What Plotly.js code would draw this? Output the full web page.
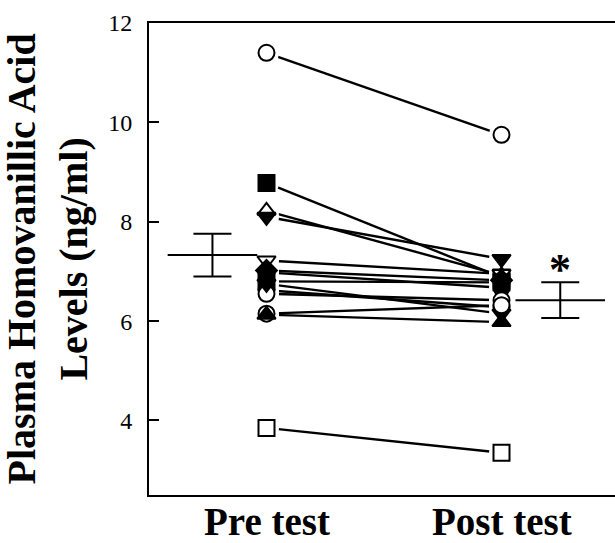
<!DOCTYPE html>
<html>
<head>
<meta charset="utf-8">
<script src="https://cdn.plot.ly/plotly-3.0.1.min.js"></script>
<style>
html, body { margin: 0; padding: 0; overflow: hidden; background: #fff; }
#chart { width: 620px; height: 543px; }
</style>
</head>
<body>
<div id="chart"></div>
<script>
// ---- data ----
const categories = ['Pre test', 'Post test'];
const categoryX = [1, 2];
const subjectSymbols = [
  'circle-open', 'square', 'triangle-up-open', 'triangle-down', 'triangle-down-open',
  'diamond', 'circle', 'square', 'circle', 'circle-open',
  'triangle-down', 'circle-open', 'triangle-up', 'square-open'
];
const preValues  = [11.40, 8.78, 8.22, 8.10, 7.22, 7.02, 6.98, 6.80, 6.62, 6.55, 6.75, 6.15, 6.13, 3.85];
const postValues = [ 9.75, 6.88, 6.92, 7.25, 6.95, 6.82, 6.67, 6.78, 6.28, 6.42, 6.15, 6.32, 5.98, 3.35];
const meanX = [0.77, 2.25];
const meanValues = [7.33, 6.42];
const meanSE = [0.43, 0.36];
const significanceMark = '*';
const yTickValues = [4, 6, 8, 10, 12];
const yTitleLines = ['Plasma Homovanillic Acid', 'Levels (ng/ml)'];

// ---- build traces ----
const serif = 'Liberation Serif, Times New Roman, serif';
const traces = [];
for (let i = 0; i < preValues.length; i++) {
  traces.push({
    type: 'scatter', mode: 'lines',
    x: categoryX, y: [preValues[i], postValues[i]],
    line: { color: '#000', width: 2.4 },
    hoverinfo: 'skip', showlegend: false
  });
}
// white halos so the connecting lines stop short of the symbols
[preValues, postValues].forEach((vals, k) => {
  traces.push({
    type: 'scatter', mode: 'markers',
    x: vals.map(() => categoryX[k]), y: vals,
    marker: { symbol: 'circle', color: '#fff', size: 25, line: { width: 0 } },
    hoverinfo: 'skip', showlegend: false
  });
});
const baseSymbol = s => s.replace('-open', '');
const fillOf = s => s.endsWith('-open') ? '#fff' : '#000';
[preValues, postValues].forEach((vals, k) => {
  traces.push({
    type: 'scatter', mode: 'markers',
    x: vals.map(() => categoryX[k]), y: vals,
    marker: {
      symbol: subjectSymbols.map(baseSymbol),
      color: subjectSymbols.map(fillOf),
      size: 16,
      line: { color: '#000', width: 2 }
    },
    showlegend: false
  });
});
traces.push({
  type: 'scatter', mode: 'markers',
  x: meanX, y: meanValues,
  marker: { symbol: 'line-ew', size: 64, color: '#000', line: { color: '#000', width: 2 } },
  error_y: { type: 'data', array: meanSE, visible: true, color: '#000', thickness: 2, width: 19 },
  showlegend: false
});

const annotations = [
  {
    xref: 'x', yref: 'y', x: meanX[1], y: meanValues[1] + meanSE[1],
    text: significanceMark, showarrow: false, yanchor: 'bottom', yshift: -14,
    font: { family: serif, size: 44, color: '#000', weight: 'bold' }
  },
  {
    xref: 'paper', yref: 'paper', x: -0.216, y: 0.5, xanchor: 'center', yanchor: 'middle',
    text: yTitleLines.join('<br>'), textangle: -90, showarrow: false,
    font: { family: serif, size: 40, color: '#000', weight: 'bold' }
  }
];
categories.forEach((c, k) => {
  annotations.push({
    xref: 'x', yref: 'paper', x: categoryX[k], y: 0, yanchor: 'top', yshift: -3,
    text: c, showarrow: false,
    font: { family: serif, size: 39, color: '#000', weight: 'bold' }
  });
});

const layout = {
  width: 620, height: 543,
  margin: { l: 149, r: 1, t: 23, b: 48 },
  paper_bgcolor: '#fff', plot_bgcolor: '#fff',
  showlegend: false,
  xaxis: {
    range: [0.5, 2.5], showgrid: false, zeroline: false,
    showline: true, linecolor: '#000', linewidth: 2, mirror: true,
    showticklabels: false, ticks: ''
  },
  yaxis: {
    range: [2.5, 12], showgrid: false, zeroline: false,
    showline: true, linecolor: '#000', linewidth: 2, mirror: false,
    tickvals: yTickValues, ticks: 'inside', ticklen: 10, tickwidth: 2, tickcolor: '#000',
    tickfont: { family: serif, size: 24, color: '#000' }, ticklabelstandoff: 10
  },
  annotations: annotations
};
Plotly.newPlot('chart', traces, layout, { displayModeBar: false, staticPlot: true });
</script>
</body>
</html>
